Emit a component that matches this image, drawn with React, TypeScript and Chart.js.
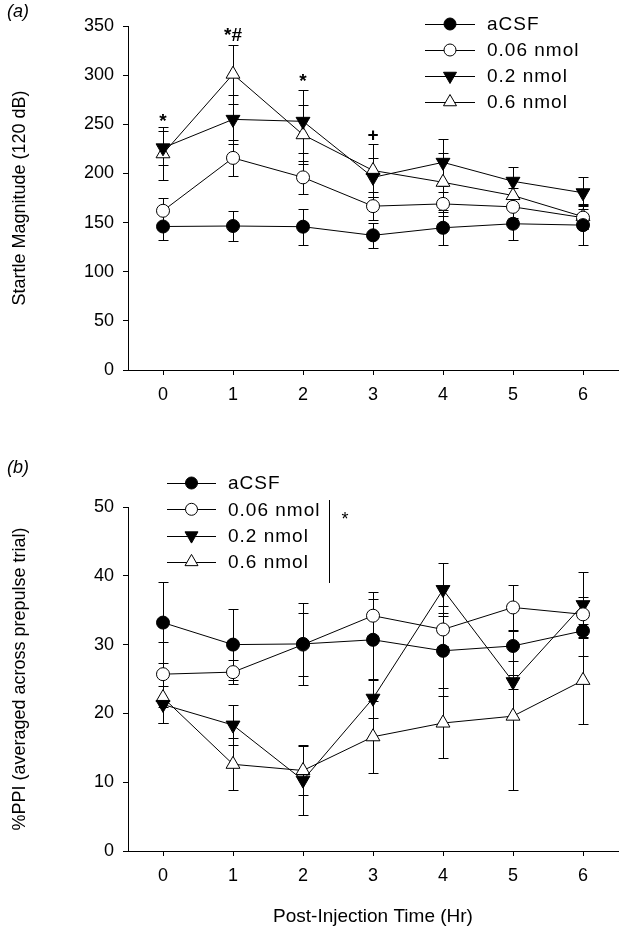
import React, { useEffect, useRef } from 'react';
import { Chart, registerables } from 'chart.js';

Chart.register(...registerables);

const FONT = '"Liberation Sans", Arial, Helvetica, sans-serif';

// ---- Data ----
const hours = ['0', '1', '2', '3', '4', '5', '6'];
const seriesNames = ['aCSF', '0.06 nmol', '0.2 nmol', '0.6 nmol'];

// (a) Startle magnitude (120 dB)
const startleACSF = [146, 146.5, 145.8, 137, 144.7, 148.8, 147.4];
const startleACSFErr = [13.5, 15, 18.5, 12.5, 18, 16.5, 20.5];
const startle006 = [162, 215.8, 196, 166.7, 169, 166, 155];
const startle006Err = [12.5, 18, 16.5, 14.5, 12, 11, 12];
const startle02 = [226, 255, 253, 196, 211.3, 192, 180.3];
const startle02Err = [17.5, 25, 32, 20, 24, 15, 16];
const startle06 = [220, 301, 239.4, 203, 191, 177.5, 156];
const startle06Err = [27, 30, 30, 27, 30, 8, 13];
const startleYTicks = { min: 0, max: 350, step: 50 };
const startleMarks = [
  { x: 0, y: 243.5, text: '*' },
  { x: 1, y: 331, text: '*#' },
  { x: 2, y: 285, text: '*' },
  { x: 3, y: 230, text: '+' },
];

// (b) %PPI
const ppiACSF = [33.2, 30.0, 30.1, 30.7, 29.1, 29.8, 32.0];
const ppiACSFErr = [5.9, 5.2, 6.0, 5.9, 6.5, 2.2, 1.0];
const ppi006 = [25.7, 26.0, 30.0, 34.2, 32.2, 35.4, 34.4];
const ppi006Err = [4.7, 1.7, 4.6, 3.4, 2.4, 3.3, 6.1];
const ppi02 = [21.3, 18.3, 10.3, 22.2, 38.0, 24.6, 35.8];
const ppi02Err = [2.7, 2.9, 5.1, 2.8, 3.9, 1.0, 1.1];
const ppi06 = [22.3, 12.6, 11.7, 16.6, 18.6, 19.6, 24.8];
const ppi06Err = [3.7, 3.8, 3.5, 5.2, 5.1, 10.7, 6.3];
const ppiYTicks = { min: 0, max: 50, step: 10 };

// ---- Styles ----
const seriesStyles = [
  { style: 'circle', fill: '#000', radius: 6.5, rotation: 0 },
  { style: 'circle', fill: '#fff', radius: 6.5, rotation: 0 },
  { style: 'triangle', fill: '#000', radius: 8, rotation: 180 },
  { style: 'triangle', fill: '#fff', radius: 8, rotation: 0 },
];

function drawMarker(ctx: CanvasRenderingContext2D, s: any, x: number, y: number) {
  ctx.save();
  ctx.beginPath();
  if (s.style === 'circle') {
    ctx.arc(x, y, s.radius, 0, Math.PI * 2);
  } else {
    let rad = (s.rotation * Math.PI) / 180;
    const r = s.radius;
    ctx.moveTo(x + Math.sin(rad) * r, y - Math.cos(rad) * r);
    rad += (2 * Math.PI) / 3;
    ctx.lineTo(x + Math.sin(rad) * r, y - Math.cos(rad) * r);
    rad += (2 * Math.PI) / 3;
    ctx.lineTo(x + Math.sin(rad) * r, y - Math.cos(rad) * r);
    ctx.closePath();
  }
  ctx.fillStyle = s.fill;
  ctx.fill();
  ctx.lineWidth = 1;
  ctx.strokeStyle = '#000';
  ctx.stroke();
  ctx.restore();
}

const errorBarPlugin = {
  id: 'errorBars',
  beforeDatasetsDraw(chart: any) {
    const ctx = chart.ctx;
    const xs = chart.scales.x;
    const ys = chart.scales.y;
    ctx.save();
    ctx.strokeStyle = '#000';
    ctx.lineWidth = 1;
    chart.data.datasets.forEach((ds: any) => {
      ds.data.forEach((v: number, j: number) => {
        const e = ds.errors[j];
        const x = Math.round(xs.getPixelForValue(j)) + 0.5;
        const yt = Math.round(ys.getPixelForValue(v + e)) + 0.5;
        const yb = Math.round(ys.getPixelForValue(v - e)) + 0.5;
        ctx.beginPath();
        ctx.moveTo(x, yt);
        ctx.lineTo(x, yb);
        ctx.moveTo(x - 5, yt);
        ctx.lineTo(x + 5, yt);
        ctx.moveTo(x - 5, yb);
        ctx.lineTo(x + 5, yb);
        ctx.stroke();
      });
    });
    ctx.restore();
  },
};

const decorPlugin = {
  id: 'decor',
  afterDraw(chart: any) {
    const o = chart.options.plugins.decor;
    if (!o) return;
    const ctx = chart.ctx;
    const xs = chart.scales.x;
    const ys = chart.scales.y;
    ctx.save();
    // panel label
    ctx.fillStyle = '#000';
    ctx.font = `italic 18px ${FONT}`;
    ctx.textAlign = 'center';
    ctx.textBaseline = 'middle';
    ctx.fillText(o.panel, o.panelX, o.panelY);
    // legend
    const lg = o.legend;
    seriesNames.forEach((name, i) => {
      const y = lg.y + i * lg.gap;
      ctx.beginPath();
      ctx.strokeStyle = '#000';
      ctx.lineWidth = 1;
      ctx.moveTo(lg.x0, Math.round(y) + 0.5);
      ctx.lineTo(lg.x1, Math.round(y) + 0.5);
      ctx.stroke();
      const st = seriesStyles[i];
      drawMarker(ctx, { ...st, radius: st.radius - 0.5 }, (lg.x0 + lg.x1) / 2, y);
      ctx.fillStyle = '#000';
      ctx.font = `19px ${FONT}`;
      ctx.textAlign = 'left';
      ctx.textBaseline = 'middle';
      (ctx as any).letterSpacing = '1px';
      ctx.fillText(name, lg.tx, y + 1);
      (ctx as any).letterSpacing = '0px';
    });
    if (o.bracket) {
      const b = o.bracket;
      ctx.beginPath();
      ctx.moveTo(b.x + 0.5, b.y0);
      ctx.lineTo(b.x + 0.5, b.y1);
      ctx.stroke();
      ctx.font = `18px ${FONT}`;
      ctx.textAlign = 'center';
      ctx.fillText('*', b.sx, b.sy);
    }
    // significance marks
    if (o.marks) {
      ctx.font = `bold 19px ${FONT}`;
      ctx.textAlign = 'center';
      ctx.textBaseline = 'bottom';
      o.marks.forEach((m: any) => {
        ctx.fillText(m.text, xs.getPixelForValue(m.x), ys.getPixelForValue(m.y) + 1);
      });
    }
    ctx.restore();
  },
};

function buildDatasets(vals: number[][], errs: number[][]) {
  return vals.map((v, i) => {
    const s = seriesStyles[i];
    return {
      label: seriesNames[i],
      data: v,
      errors: errs[i],
      borderColor: '#000',
      borderWidth: 1,
      pointStyle: s.style,
      pointRadius: s.radius,
      pointRotation: s.rotation,
      pointBackgroundColor: s.fill,
      pointBorderColor: '#000',
      pointBorderWidth: 1,
      tension: 0,
      fill: false,
      clip: false,
    };
  });
}

function makeOptions(cfg: any) {
  const tickFont = { family: FONT, size: 18 };
  return {
    animation: false,
    responsive: false,
    maintainAspectRatio: false,
    events: [],
    layout: { padding: { top: cfg.padTop, right: 11, left: 0, bottom: 0 } },
    plugins: {
      legend: { display: false },
      tooltip: { enabled: false },
      decor: cfg.decor,
    },
    scales: {
      x: {
        type: 'category',
        offset: true,
        grid: { display: true, drawOnChartArea: false, offset: false, color: '#000', tickLength: 5, lineWidth: 1 },
        border: { display: true, color: '#000', width: 1 },
        ticks: { font: tickFont, color: '#000', padding: 9, maxRotation: 0 },
        title: cfg.xTitle
          ? { display: true, text: cfg.xTitle, font: { family: FONT, size: 19 }, color: '#000', padding: { top: 0, bottom: 8 } }
          : { display: false },
        afterFit: (s: any) => {
          s.height = cfg.xHeight;
        },
      },
      y: {
        type: 'linear',
        min: cfg.y.min,
        max: cfg.y.max,
        grid: { display: true, drawOnChartArea: false, color: '#000', tickLength: 5, lineWidth: 1 },
        border: { display: true, color: '#000', width: 1 },
        ticks: { stepSize: cfg.y.step, font: tickFont, color: '#000', padding: 9 },
        title: { display: true, text: cfg.yTitle, font: { family: FONT, size: 18 }, color: '#000', padding: { top: 9, bottom: 0 } },
        afterFit: (s: any) => {
          s.width = 128;
        },
      },
    },
  };
}

function ChartCanvas({ height, config }: { height: number; config: any }) {
  const ref = useRef<HTMLCanvasElement | null>(null);
  useEffect(() => {
    if (!ref.current) return;
    const chart = new Chart(ref.current, config);
    return () => chart.destroy();
  }, []);
  return <canvas ref={ref} width={629} height={height} style={{ display: 'block', width: 629, height }} />;
}

export default function App() {
  const configA = {
    type: 'line',
    data: {
      labels: hours,
      datasets: buildDatasets(
        [startleACSF, startle006, startle02, startle06],
        [startleACSFErr, startle006Err, startle02Err, startle06Err]
      ),
    },
    options: makeOptions({
      padTop: 26,
      xHeight: 80,
      y: startleYTicks,
      yTitle: 'Startle Magnitude (120 dB)',
      decor: {
        panel: '(a)',
        panelX: 18,
        panelY: 12,
        legend: { x0: 425, x1: 475, tx: 487, y: 24, gap: 26 },
        marks: startleMarks,
      },
    }),
    plugins: [errorBarPlugin, decorPlugin],
  };
  const configB = {
    type: 'line',
    data: {
      labels: hours,
      datasets: buildDatasets([ppiACSF, ppi006, ppi02, ppi06], [ppiACSFErr, ppi006Err, ppi02Err, ppi06Err]),
    },
    options: makeOptions({
      padTop: 57,
      xHeight: 85,
      y: ppiYTicks,
      yTitle: '%PPI (averaged across prepulse trial)',
      xTitle: 'Post-Injection Time (Hr)',
      decor: {
        panel: '(b)',
        panelX: 18,
        panelY: 18,
        legend: { x0: 167, x1: 216, tx: 228, y: 33, gap: 26.3 },
        bracket: { x: 329, y0: 50, y1: 133, sx: 345, sy: 70 },
      },
    }),
    plugins: [errorBarPlugin, decorPlugin],
  };
  return (
    <div style={{ position: 'fixed', left: 0, top: 0, width: 629, height: 936, background: '#fff' }}>
      <ChartCanvas height={450} config={configA} />
      <ChartCanvas height={486} config={configB} />
    </div>
  );
}
